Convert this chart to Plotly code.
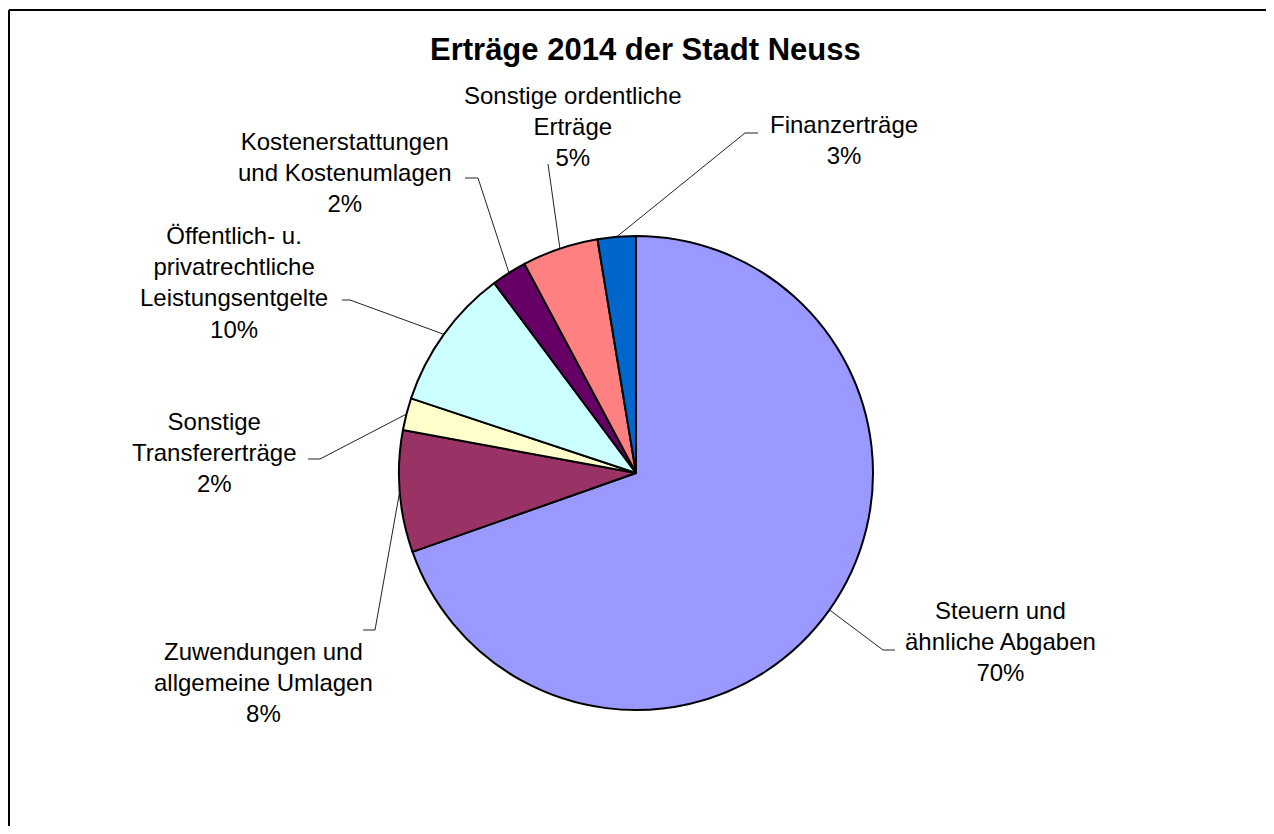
import math
import plotly.graph_objects as go

# Ertragsarten, im Uhrzeigersinn ab 12 Uhr
categories = [
    "Steuern und<br>ähnliche Abgaben",
    "Zuwendungen und<br>allgemeine Umlagen",
    "Sonstige<br>Transfererträge",
    "Öffentlich- u.<br>privatrechtliche<br>Leistungsentgelte",
    "Kostenerstattungen<br>und Kostenumlagen",
    "Sonstige ordentliche<br>Erträge",
    "Finanzerträge",
]
shares = [69.6, 8.3, 2.2, 9.7, 2.4, 5.2, 2.6]
colors = ["#9999FF", "#993366", "#FFFFCC", "#CCFFFF", "#660066", "#FF8080", "#0066CC"]

W, H = 1274, 834
OFF = 8  # page margin of the html body
FW, FH = W - 2 * OFF, H - 2 * OFF
# pie placement in page pixels
cx, cy, r = 636, 473, 237

# label block centres and leader elbows (page pixels)
label_xy = [(1000, 641), (263, 682), (214, 452), (234, 282), (345, 172), (572, 126), (844, 140)]
elbows = [(883, 650, 895), (375, 630, 363), (320, 459, 308), (350, 300, 342),
          (478, 178, 465), (548, 164, None), (745, 133, 758)]

FONT = "Liberation Sans, Arial, sans-serif"

fig = go.Figure()
fig.add_trace(go.Pie(
    labels=[c.replace("<br>", " ") for c in categories],
    values=shares,
    sort=False,
    direction="clockwise",
    rotation=0,
    marker=dict(colors=colors, line=dict(color="black", width=2)),
    textinfo="none",
    hoverinfo="label+percent",
    domain=dict(x=[(cx - OFF - r) / FW, (cx - OFF + r) / FW],
                y=[(H - OFF - cy - r) / FH, (H - OFF - cy + r) / FH]),
    showlegend=False,
))

total = sum(shares)
annotations = []
shapes = []
cum = 0
for name, v, (lx, ly), (ex, ey, hx) in zip(categories, shares, label_xy, elbows):
    mid = (cum + v / 2) / total * 2 * math.pi
    cum += v
    px = cx + r * math.sin(mid)
    py = cy - r * math.cos(mid)
    path = f"M {px:.1f},{py:.1f} L {ex},{ey}"
    if hx is not None:
        path += f" L {hx},{ey}"
    shapes.append(dict(type="path", path=path, xref="x", yref="y",
                       line=dict(color="#222222", width=1)))
    annotations.append(dict(
        x=lx, y=ly, xref="x", yref="y", showarrow=False,
        text=f"{name}<br>{round(v)}%", align="center",
        xanchor="center", yanchor="middle",
        font=dict(family=FONT, size=24, color="black"),
    ))

annotations.append(dict(
    x=645, y=49, xref="x", yref="y", showarrow=False,
    text="<b>Erträge 2014 der Stadt Neuss</b>",
    xanchor="center", yanchor="middle",
    font=dict(family=FONT, size=31, color="black"),
))

# chart frame (runs off at right and bottom like the source)
shapes.append(dict(type="line", xref="x", yref="y", x0=9, y0=10, x1=W - OFF, y1=10,
                   line=dict(color="black", width=2)))
shapes.append(dict(type="line", xref="x", yref="y", x0=9, y0=10, x1=9, y1=H - OFF,
                   line=dict(color="black", width=2)))

fig.update_layout(
    width=FW, height=FH,
    margin=dict(l=0, r=0, t=0, b=0),
    paper_bgcolor="white", plot_bgcolor="rgba(0,0,0,0)",
    xaxis=dict(range=[OFF, W - OFF], visible=False, fixedrange=True),
    yaxis=dict(range=[H - OFF, OFF], visible=False, fixedrange=True),
    annotations=annotations,
    shapes=shapes,
)

fig.write_html("out.html")
